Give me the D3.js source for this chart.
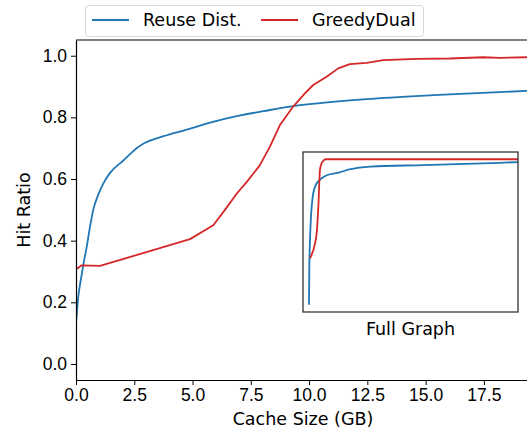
<!DOCTYPE html>
<html>
<head>
<meta charset="utf-8">
<script src="https://cdn.jsdelivr.net/npm/d3@7"></script>
<style>
  body { margin: 0; background: #fff; }
  svg { font-family: 'DejaVu Sans', sans-serif; display: block; }
  .axis path, .axis line { stroke: #000; }
  .axis text { fill: #000; font-size: 17.5px; }
</style>
</head>
<body>
<div id="chart"></div>
<script>
'use strict';

// main view, cache size (GB) vs hit ratio
var reuseX = [0, 0.1, 0.2, 0.31, 0.46, 0.6, 0.74, 0.96, 1.17, 1.46, 2.03, 2.35, 2.6, 2.85, 3.1, 3.5, 3.9, 4.75, 5.75, 6.9, 8.04, 9.18, 10.47, 12.47, 15.33, 19.35];
var reuseY = [0.13, 0.22, 0.27, 0.32, 0.38, 0.445, 0.50, 0.55, 0.585, 0.62, 0.66, 0.683, 0.70, 0.713, 0.722, 0.733, 0.742, 0.76, 0.783, 0.804, 0.82, 0.835, 0.846, 0.859, 0.872, 0.886];

var greedyX = [0, 0.06, 0.24, 1.03, 4.89, 5.89, 6.39, 6.9, 7.32, 7.89, 8.32, 8.75, 9.32, 9.82, 10.18, 10.75, 11.25, 11.75, 12.47, 13.18, 14.6, 16.04, 17.47, 18.2, 19.35];
var greedyY = [0.31, 0.31, 0.32, 0.318, 0.405, 0.45, 0.50, 0.553, 0.59, 0.645, 0.705, 0.775, 0.835, 0.878, 0.905, 0.932, 0.959, 0.973, 0.977, 0.986, 0.99, 0.991, 0.995, 0.993, 0.995];

// inset, full range
var fullReuseX = [0, 0.2, 0.7, 1.4, 2.4, 4.3, 7.9, 12.7, 22, 29, 44, 82, 150];
var fullReuseY = [0.0, 0.22, 0.44, 0.60, 0.72, 0.81, 0.86, 0.89, 0.91, 0.93, 0.95, 0.96, 0.98];
var fullGreedyX = [0.7, 4.3, 5.5, 6.7, 7.9, 9.2, 10.3, 12, 150];
var fullGreedyY = [0.32, 0.42, 0.49, 0.67, 0.93, 0.975, 0.99, 1.0, 1.0];

var xTicks = [0, 2.5, 5, 7.5, 10, 12.5, 15, 17.5];
var yTicks = [0, 0.2, 0.4, 0.6, 0.8, 1.0];
var SERIES = ['Reuse Dist.', 'GreedyDual'];
var COLORS = ['#1f77b4', '#d62728'];
var CURVES = [d3.curveMonotoneX, d3.curveLinear];

var W = 527, H = 430;
var FONT = '17.5px';
var margin = { top: 40, right: 0, bottom: 50, left: 76 };
var width = W - margin.left - margin.right;
var height = H - margin.top - margin.bottom;

var svg = d3.select('#chart').append('svg')
    .attr('width', W)
    .attr('height', H);

var x = d3.scaleLinear().domain([0, 19.35]).range([0, width]);
var y = d3.scaleLinear().domain([-0.052, 1.051]).range([height, 0]);

svg.append('defs').append('clipPath').attr('id', 'clip')
  .append('rect').attr('width', width).attr('height', height);

var g = svg.append('g')
    .attr('transform', 'translate(' + margin.left + ',' + margin.top + ')');

function zip(xs, ys) {
  return xs.map(function(v, i) { return [v, ys[i]]; });
}

var lines = g.append('g').attr('clip-path', 'url(#clip)');
[zip(reuseX, reuseY), zip(greedyX, greedyY)].forEach(function(pts, i) {
  var line = d3.line()
      .curve(CURVES[i])
      .x(function(d) { return x(d[0]); })
      .y(function(d) { return y(d[1]); });
  lines.append('path')
      .attr('d', line(pts))
      .attr('fill', 'none')
      .attr('stroke', COLORS[i])
      .attr('stroke-width', 1.8)
      .attr('stroke-linejoin', 'round');
});

// axes
g.append('g')
    .attr('class', 'axis axis--x')
    .attr('transform', 'translate(0,' + height + ')')
    .call(d3.axisBottom(x).tickValues(xTicks).tickFormat(d3.format('.1f')).tickSize(5).tickPadding(4).tickSizeOuter(0));

g.append('g')
    .attr('class', 'axis axis--y')
    .call(d3.axisLeft(y).tickValues(yTicks).tickFormat(d3.format('.1f')).tickSize(5).tickPadding(4).tickSizeOuter(0));

g.selectAll('.axis path').attr('stroke-width', 1.2);

g.append('line')
    .attr('x1', 0).attr('x2', width)
    .attr('y1', 0).attr('y2', 0)
    .attr('stroke', '#000').attr('stroke-width', 1.2);

svg.append('text')
    .attr('transform', 'translate(24,' + (margin.top + height / 2) + ') rotate(-90)')
    .attr('text-anchor', 'middle')
    .attr('dy', '0.35em')
    .style('font-size', FONT)
    .text('Hit Ratio');

svg.append('text')
    .attr('x', 303)
    .attr('y', 425)
    .attr('text-anchor', 'middle')
    .style('font-size', FONT)
    .text('Cache Size (GB)');

// inset
var inset = { x: 303, y: 152, w: 215, h: 160 };
var ix = d3.scaleLinear().domain([-4.3, 150]).range([0, inset.w]);
var iy = d3.scaleLinear().domain([-0.05, 1.05]).range([inset.h, 0]);

var ig = svg.append('g')
    .attr('transform', 'translate(' + inset.x + ',' + inset.y + ')');

ig.append('rect')
    .attr('width', inset.w).attr('height', inset.h)
    .attr('fill', '#fff');

var iline = d3.line()
    .curve(d3.curveMonotoneX)
    .x(function(d) { return ix(d[0]); })
    .y(function(d) { return iy(d[1]); });

[zip(fullReuseX, fullReuseY), zip(fullGreedyX, fullGreedyY)].forEach(function(pts, i) {
  ig.append('path')
      .attr('d', iline(pts))
      .attr('fill', 'none')
      .attr('stroke', COLORS[i])
      .attr('stroke-width', 1.8);
});

ig.append('rect')
    .attr('width', inset.w).attr('height', inset.h)
    .attr('fill', 'none')
    .attr('stroke', '#333')
    .attr('stroke-width', 1.3);

ig.append('text')
    .attr('x', inset.w / 2)
    .attr('y', inset.h + 23)
    .attr('text-anchor', 'middle')
    .style('font-size', FONT)
    .text('Full Graph');

// legend
var legend = svg.append('g');
legend.append('rect')
    .attr('x', 85.5).attr('y', 5.5)
    .attr('width', 338).attr('height', 31)
    .attr('rx', 3)
    .attr('fill', '#fff')
    .attr('stroke', '#d9d9d9');

var legendX = [92, 261];
SERIES.forEach(function(name, i) {
  legend.append('line')
      .attr('x1', legendX[i]).attr('x2', legendX[i] + 37)
      .attr('y1', 20).attr('y2', 20)
      .attr('stroke', COLORS[i])
      .attr('stroke-width', 1.8);
  legend.append('text')
      .attr('x', legendX[i] + 51)
      .attr('y', 20)
      .attr('dy', '0.35em')
      .style('font-size', FONT)
      .text(name);
});
</script>
</body>
</html>
